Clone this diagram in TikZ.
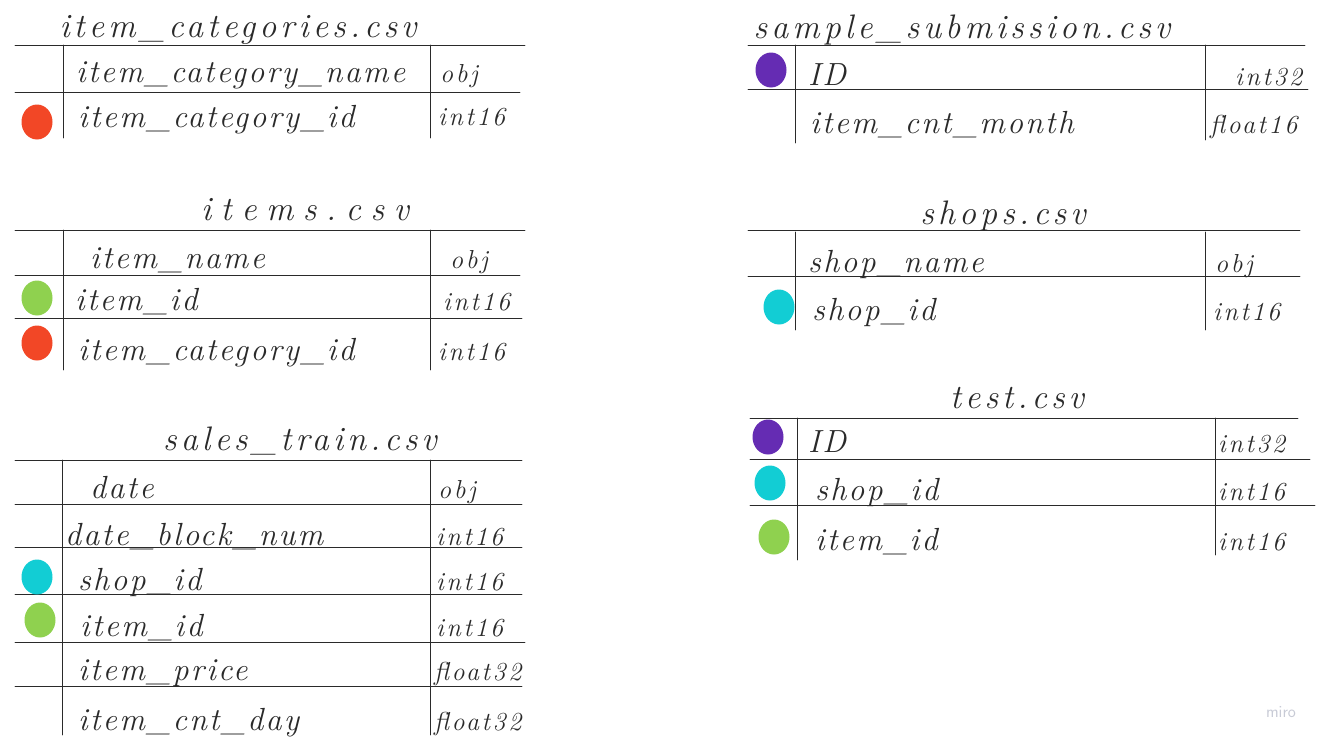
\documentclass[tikz,border=0pt]{standalone}
\usepackage{fontspec}
\usetikzlibrary{shapes.geometric}
\newfontfamily\handfont[LetterSpace=7]{Latin Modern Roman}
\newfontfamily\handtitlefont[LetterSpace=12]{Latin Modern Roman}
\newfontfamily\handwidefont[LetterSpace=28]{Latin Modern Roman}
\newfontfamily\handtypefont[LetterSpace=10]{Latin Modern Roman}
\definecolor{ink}{HTML}{2A2A2A}
\definecolor{dred}{HTML}{F24726}
\definecolor{dgreen}{HTML}{8FD14F}
\definecolor{dcyan}{HTML}{12CDD4}
\definecolor{dpurple}{HTML}{652CB3}
\definecolor{mirogray}{HTML}{C8CBD6}
\tikzset{
  x=1pt, y=-1pt,
  rule/.style={draw=ink, line width=0.9pt, line cap=round},
  hand/.style={inner sep=0pt, text=ink, anchor=base west,
    font=\handfont\itshape\fontsize{32}{36}\selectfont},
  title/.style={hand, anchor=base, font=\handtitlefont\itshape\fontsize{34}{38}\selectfont},
  widetitle/.style={title, font=\handwidefont\itshape\fontsize{34}{38}\selectfont},
  typ/.style={hand, font=\handtypefont\itshape\fontsize{26}{30}\selectfont},
  dot/.style={ellipse, minimum width=31pt, minimum height=35pt, inner sep=0pt, draw=none},
}
\begin{document}
\begin{tikzpicture}
\useasboundingbox (0,0) rectangle (1333,750);
\fill[white] (0,0) rectangle (1333,750);

% ---------- item_categories.csv ----------
\node[title] (t1) at (238,37) {item\_categories.csv};
\draw[rule] (15,45) -- (525,45);
\draw[rule] (15,92) -- (520,92);
\draw[rule] (63,45) -- (63,138);
\draw[rule] (430,45) -- (430,138);
\node[hand] (t1a) at (76,82) {item\_category\_name};
\node[typ]  (t1at) at (440,82) {obj};
\node[hand] (t1b) at (78,127) {item\_category\_id};
\node[typ]  (t1bt) at (438,125) {int16};
\node[dot, fill=dred] (d1b) at (37,122) {};

% ---------- items.csv ----------
\node[widetitle] (t2) at (305,220) {items.csv};
\draw[rule] (15,230) -- (525,230);
\draw[rule] (15,275) -- (520,275);
\draw[rule] (15,318) -- (522,318);
\draw[rule] (63,230) -- (63,370);
\draw[rule] (430,230) -- (430,370);
\node[hand] (t2a) at (90,268) {item\_name};
\node[typ]  (t2at) at (450,268) {obj};
\node[hand] (t2b) at (75,310) {item\_id};
\node[typ]  (t2bt) at (443,310) {int16};
\node[hand] (t2c) at (78,360) {item\_category\_id};
\node[typ]  (t2ct) at (438,360) {int16};
\node[dot, fill=dgreen] (d2b) at (37,298) {};
\node[dot, fill=dred] (d2c) at (37,343) {};

% ---------- sales_train.csv ----------
\node[title] (t3) at (300,450) {sales\_train.csv};
\draw[rule] (15,460) -- (522,460);
\draw[rule] (15,504) -- (522,504);
\draw[rule] (15,547) -- (522,547);
\draw[rule] (15,594) -- (522,594);
\draw[rule] (15,642) -- (525,642);
\draw[rule] (15,686) -- (522,686);
\draw[rule] (62,460) -- (62,735);
\draw[rule] (430,460) -- (430,735);
\node[hand] (t3a) at (90,498) {date};
\node[typ]  (t3at) at (438,498) {obj};
\node[hand] (t3b) at (65,545) {date\_block\_num};
\node[typ]  (t3bt) at (436,545) {int16};
\node[hand] (t3c) at (78,590) {shop\_id};
\node[typ]  (t3ct) at (436,590) {int16};
\node[hand] (t3d) at (80,636) {item\_id};
\node[typ]  (t3dt) at (436,636) {int16};
\node[hand] (t3e) at (78,680) {item\_price};
\node[typ]  (t3et) at (434,680) {float32};
\node[hand] (t3f) at (78,730) {item\_cnt\_day};
\node[typ]  (t3ft) at (434,730) {float32};
\node[dot, fill=dcyan] (d3c) at (37,577) {};
\node[dot, fill=dgreen] (d3d) at (40,620) {};

% ---------- sample_submission.csv ----------
\node[title] (t4) at (962,38) {sample\_submission.csv};
\draw[rule] (748,45) -- (1305,45);
\draw[rule] (748,89) -- (1308,89);
\draw[rule] (795,45) -- (795,143);
\draw[rule] (1205,45) -- (1205,140);
\node[hand] (t4a) at (808,85) {ID};
\node[typ]  (t4at) at (1235,85) {int32};
\node[hand] (t4b) at (810,133) {item\_cnt\_month};
\node[typ]  (t4bt) at (1210,133) {float16};
\node[dot, fill=dpurple] (d4a) at (771,70) {};

% ---------- shops.csv ----------
\node[title] (t5) at (1003,224) {shops.csv};
\draw[rule] (748,230) -- (1300,230);
\draw[rule] (748,276) -- (1300,276);
\draw[rule] (795,232) -- (795,330);
\draw[rule] (1205,232) -- (1205,330);
\node[hand] (t5a) at (808,272) {shop\_name};
\node[typ]  (t5at) at (1215,272) {obj};
\node[hand] (t5b) at (812,320) {shop\_id};
\node[typ]  (t5bt) at (1213,320) {int16};
\node[dot, fill=dcyan] (d5b) at (779,307) {};

% ---------- test.csv ----------
\node[title] (t6) at (1017,408) {test.csv};
\draw[rule] (750,418) -- (1298,418);
\draw[rule] (750,459) -- (1310,459);
\draw[rule] (750,505) -- (1315,505);
\draw[rule] (797,418) -- (797,560);
\draw[rule] (1215,418) -- (1215,555);
\node[hand] (t6a) at (808,452) {ID};
\node[typ]  (t6at) at (1218,452) {int32};
\node[hand] (t6b) at (815,500) {shop\_id};
\node[typ]  (t6bt) at (1218,500) {int16};
\node[hand] (t6c) at (815,550) {item\_id};
\node[typ]  (t6ct) at (1218,550) {int16};
\node[dot, fill=dpurple] (d6a) at (768,437) {};
\node[dot, fill=dcyan] (d6b) at (770,483) {};
\node[dot, fill=dgreen] (d6c) at (774,537) {};

% ---------- watermark ----------
\node[inner sep=0pt, text=mirogray, font=\fontsize{17}{20}\selectfont\sffamily] (miro) at (1281,712) {miro};
\end{tikzpicture}
\end{document}
